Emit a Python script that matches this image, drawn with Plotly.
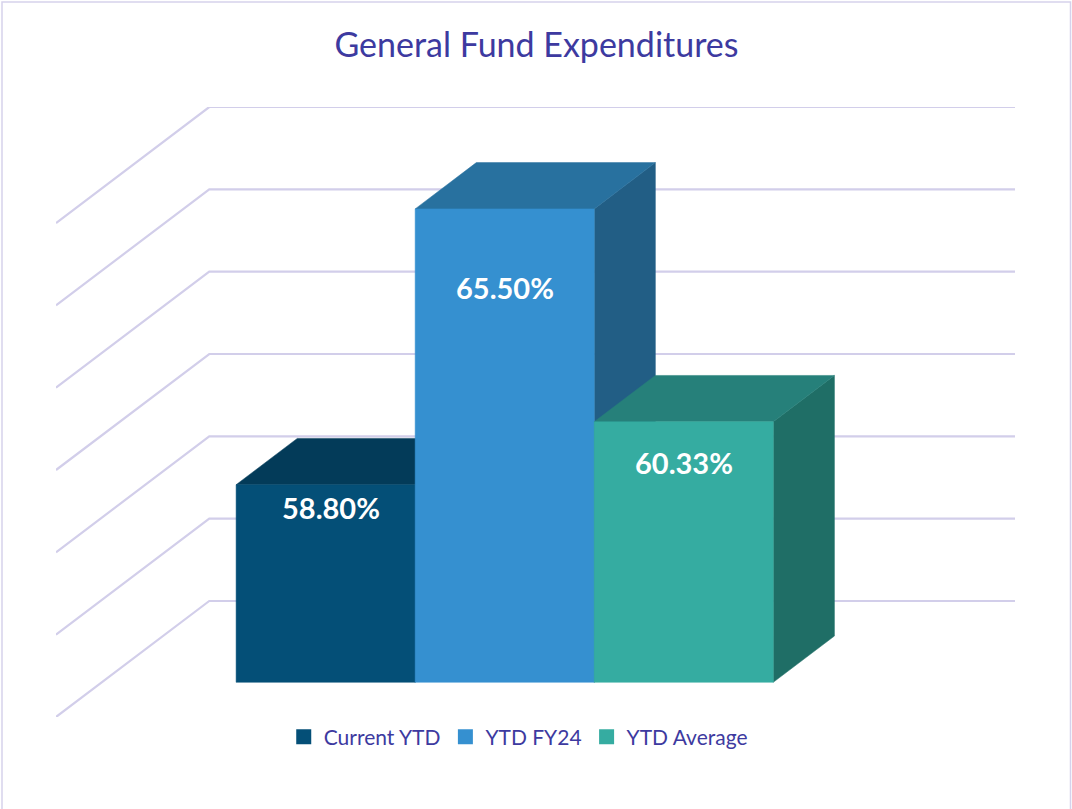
import plotly.graph_objects as go

# ---------------- data ----------------
series = ["Current YTD", "YTD FY24", "YTD Average"]
values = [58.80, 65.50, 60.33]          # percent
labels = ["58.80%", "65.50%", "60.33%"]
grid_levels = [54, 56, 58, 60, 62, 64, 66]  # value-axis gridlines (percent)

# ---------------- style ----------------
front_colors = ["#044F77", "#3590D0", "#35ACA1"]
top_colors = ["#033B59", "#28719F", "#26807A"]
side_colors = ["#033E5E", "#225E85", "#1F6E66"]
label_drop = [0.56, 1.92, 1.00]   # how far below the bar top each label sits (percent units)
label_nudge = [0.03, 0.0, 0.0]    # small horizontal nudge of labels (category units)
title_color = "#3D3AA0"
grid_color = "#D2CEEA"
FONT = "Lato"

# oblique 3-D projection (data units): depth vector of the full floor
DX, DY = 0.856, 2.818
Z0, Z1 = 0.299, 0.698           # bar depth span as fraction of floor depth
BASE = grid_levels[0]
XMIN, XMAX = -0.75, len(series) + 0.75


def proj(x, v, z):
    return x + z * DX, v + z * DY


fig = go.Figure()

# gridlines: left wall diagonal + back wall horizontal
for g in grid_levels:
    pts = [proj(XMIN, g, 0), proj(XMIN, g, 1), proj(XMAX, g, 1)]
    fig.add_trace(go.Scatter(
        x=[p[0] for p in pts], y=[p[1] for p in pts], mode="lines",
        line=dict(color=grid_color, width=2.2), hoverinfo="skip", showlegend=False))


def face(pts, color):
    xs = [p[0] for p in pts] + [pts[0][0]]
    ys = [p[1] for p in pts] + [pts[0][1]]
    fig.add_trace(go.Scatter(x=xs, y=ys, mode="lines", fill="toself", fillcolor=color,
                             line=dict(color=color, width=0.5), hoverinfo="skip",
                             showlegend=False))


for i, v in enumerate(values):
    x0, x1 = i, i + 1
    side = [proj(x1, BASE, Z0), proj(x1, BASE, Z1), proj(x1, v, Z1), proj(x1, v, Z0)]
    top = [proj(x0, v, Z0), proj(x1, v, Z0), proj(x1, v, Z1), proj(x0, v, Z1)]
    front = [proj(x0, BASE, Z0), proj(x1, BASE, Z0), proj(x1, v, Z0), proj(x0, v, Z0)]
    face(side, side_colors[i])
    face(top, top_colors[i])
    face(front, front_colors[i])
    lx, ly = proj(i + 0.5 + label_nudge[i], v - label_drop[i], Z0)
    fig.add_annotation(x=lx, y=ly, text=labels[i], showarrow=False,
                       font=dict(family=FONT, size=29, color="white", weight="bold"),
                       xanchor="center", yanchor="middle")

# legend entries
for i, name in enumerate(series):
    fig.add_trace(go.Scatter(x=[None], y=[None], mode="markers", name=name,
                             marker=dict(symbol="square", size=15, color=front_colors[i])))

# chart-area border
L, R, T, B = 56, 57, 107, 92
W, H = 1072, 809
pw, ph = W - L - R, H - T - B
fig.add_shape(type="rect", xref="paper", yref="paper",
              x0=(2 - L) / pw, x1=(1070.5 - L) / pw,
              y0=(H - B - 815) / ph, y1=(H - B - 2) / ph,
              line=dict(color="#D6D2EC", width=1.5), fillcolor="rgba(0,0,0,0)", layer="below")

fig.update_layout(
    width=W, height=H,
    margin=dict(l=L, r=R, t=T, b=B),
    paper_bgcolor="white", plot_bgcolor="white",
    title=dict(text="General Fund Expenditures", x=536.5 / W, xref="container", xanchor="center",
               y=1 - 45 / H, yref="container", yanchor="middle",
               font=dict(family=FONT, size=34, color=title_color)),
    xaxis=dict(range=[XMIN, XMAX + DX], visible=False, fixedrange=True),
    yaxis=dict(range=[BASE, grid_levels[-1] + DY], visible=False, fixedrange=True),
    legend=dict(orientation="h", x=0.482, xanchor="center", y=(H - B - 737) / ph,
                yanchor="middle", font=dict(family=FONT, size=21, color=title_color),
                bgcolor="rgba(0,0,0,0)"),
    showlegend=True,
)

fig.write_html("out.html", config={"displayModeBar": False},
               post_script="document.body.style.margin='0';document.body.style.padding='0';")
